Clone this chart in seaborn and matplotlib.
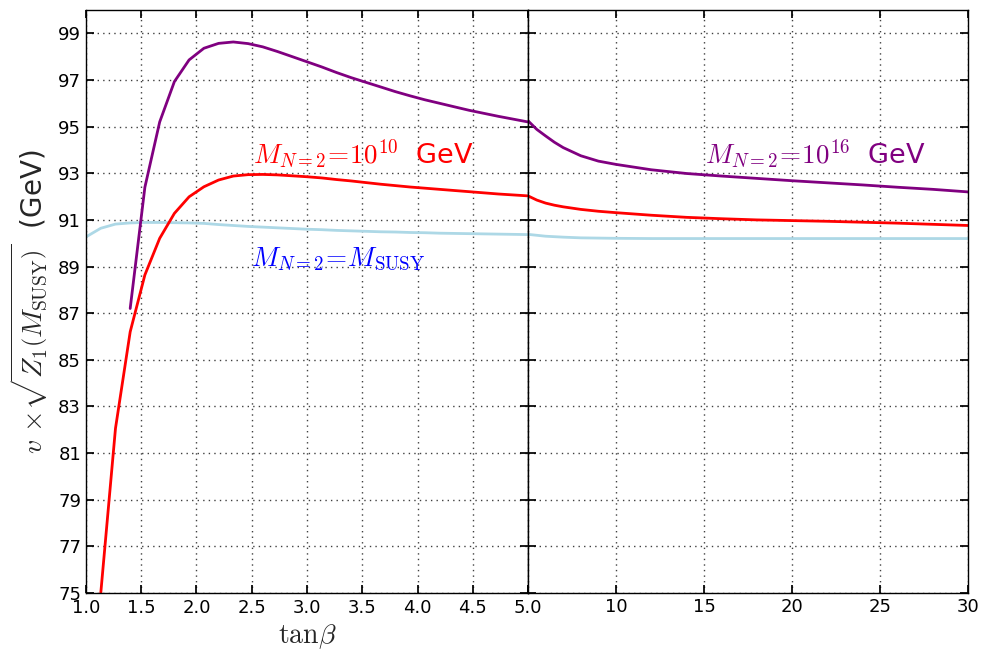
"""v * sqrt(Z1(M_SUSY)) vs tan(beta) for three N=2 thresholds, split axis."""
import matplotlib
matplotlib.use("Agg")
import matplotlib.pyplot as plt
import numpy as np
import pandas as pd
import seaborn as sns

# left panel: 1 <= tan(beta) <= 5
TANB_LEFT = [1.0, 1.133, 1.267, 1.4, 1.533, 1.667, 1.8, 1.933, 2.067, 2.2, 2.333,
             2.467, 2.6, 2.733, 2.867, 3.0, 3.133, 3.267, 3.4, 3.533, 3.667, 3.8,
             3.933, 4.067, 4.2, 4.333, 4.467, 4.6, 4.733, 4.867, 5.0]
NAN = np.nan
M16_LEFT = [NAN, NAN, NAN, 87.2, 92.4, 95.2, 96.93, 97.86, 98.36, 98.57, 98.63,
            98.56, 98.42, 98.22, 98.0, 97.78, 97.56, 97.32, 97.1, 96.9, 96.7, 96.5,
            96.32, 96.15, 96.0, 95.85, 95.7, 95.57, 95.44, 95.32, 95.2]
M10_LEFT = [NAN, 74.95, 82.06, 86.2, 88.64, 90.21, 91.28, 91.99, 92.42, 92.71, 92.88,
            92.94, 92.95, 92.93, 92.89, 92.85, 92.8, 92.73, 92.67, 92.6, 92.53, 92.47,
            92.41, 92.36, 92.31, 92.26, 92.21, 92.16, 92.11, 92.07, 92.03]
MSUSY_LEFT = [90.27, 90.64, 90.82, 90.87, 90.89, 90.89, 90.88, 90.87, 90.85, 90.8, 90.76,
              90.72, 90.69, 90.66, 90.63, 90.6, 90.58, 90.55, 90.53, 90.51, 90.49, 90.48,
              90.46, 90.45, 90.43, 90.42, 90.41, 90.4, 90.39, 90.38, 90.37]

# right panel: 5 <= tan(beta) <= 30
TANB_RIGHT = [5, 5.5, 6, 6.5, 7, 8, 9, 10, 12, 14, 16, 18, 20, 22, 24, 26, 28, 30]
M16_RIGHT = [95.25, 94.88, 94.6, 94.33, 94.1, 93.75, 93.52, 93.38, 93.15, 92.99,
             92.88, 92.78, 92.68, 92.59, 92.5, 92.4, 92.31, 92.2]
M10_RIGHT = [92.03, 91.85, 91.72, 91.63, 91.56, 91.45, 91.37, 91.31, 91.2, 91.11,
             91.05, 91.0, 90.97, 90.94, 90.9, 90.86, 90.81, 90.76]
MSUSY_RIGHT = [90.38, 90.34, 90.3, 90.28, 90.26, 90.23, 90.22, 90.21, 90.2, 90.2,
               90.2, 90.2, 90.2, 90.2, 90.2, 90.2, 90.2, 90.2]

MODELS = ["msusy", "m10", "m16"]
COLORS = {"msusy": "#add8e6", "m10": "red", "m16": "purple"}


def to_long(x, series):
    frames = []
    for name, vals in series.items():
        frames.append(pd.DataFrame({"tanb": x, "v": vals, "model": name}))
    return pd.concat(frames).dropna()


left = to_long(TANB_LEFT, {"msusy": MSUSY_LEFT, "m10": M10_LEFT, "m16": M16_LEFT})
right = to_long(TANB_RIGHT, {"msusy": MSUSY_RIGHT, "m10": M10_RIGHT, "m16": M16_RIGHT})

sns.set_theme(style="ticks")
plt.rcParams.update({
    "font.family": ["DejaVu Sans"],
    "mathtext.fontset": "cm",
    "xtick.direction": "in",
    "ytick.direction": "in",
    "xtick.top": True,
    "ytick.right": True,
    "xtick.major.size": 6,
    "ytick.major.size": 6,
    "xtick.labelsize": 13,
    "ytick.labelsize": 13,
    "xtick.color": "black",
    "ytick.color": "black",
    "xtick.labelcolor": "black",
    "ytick.labelcolor": "black",
    "axes.edgecolor": "black",
    "axes.linewidth": 1.0,
})

fig = plt.figure(figsize=(9.94, 6.51), dpi=100)
ax1 = fig.add_axes([0.0865, 0.0891, 0.4447, 0.8955])
ax2 = fig.add_axes([0.5312, 0.0891, 0.4427, 0.8955], sharey=ax1)

for ax, df in [(ax1, left), (ax2, right)]:
    sns.lineplot(data=df, x="tanb", y="v", hue="model", hue_order=MODELS,
                 palette=COLORS, linewidth=2, legend=False, sort=False,
                 errorbar=None, ax=ax)
    ax.grid(True, color="0.25", linestyle=(0, (1, 3)), linewidth=1)
    ax.set_xlabel("")
    ax.set_ylabel("")

ax1.set_ylim(75, 100)
ax1.set_yticks(np.arange(75, 100, 2))
ax1.set_xlim(1.0, 5.0)
ax1.set_xticks(np.arange(1.0, 5.01, 0.5))
ax1.set_xticklabels([f"{t:.1f}" for t in np.arange(1.0, 5.01, 0.5)])
ax1.tick_params(axis="x", pad=4)
ax2.set_xlim(5, 30)
ax2.set_xticks([5, 10, 15, 20, 25, 30])
ax2.set_xticklabels(["", "10", "15", "20", "25", "30"])
ax2.tick_params(labelleft=False)

ax1.set_ylabel(r"$v\,\times\!\sqrt{Z_1\left(M_{\rm SUSY}\right)}$  (GeV)",
               fontsize=20, labelpad=6)
ax1.set_xlabel(r"$\mathrm{tan}\beta$", fontsize=20, labelpad=4)

ax1.text(2.51, 93.4, r"$M_{N=2}\!=\!10^{10}$  GeV", color="red", fontsize=19.5)
ax1.text(2.49, 89.05, r"$M_{N=2}\!=\!M_{\rm SUSY}$", color="blue", fontsize=19.5)
ax2.text(15.05, 93.4, r"$M_{N=2}\!=\!10^{16}$  GeV", color="purple", fontsize=19.5)

fig.savefig("out.png", dpi=100)
